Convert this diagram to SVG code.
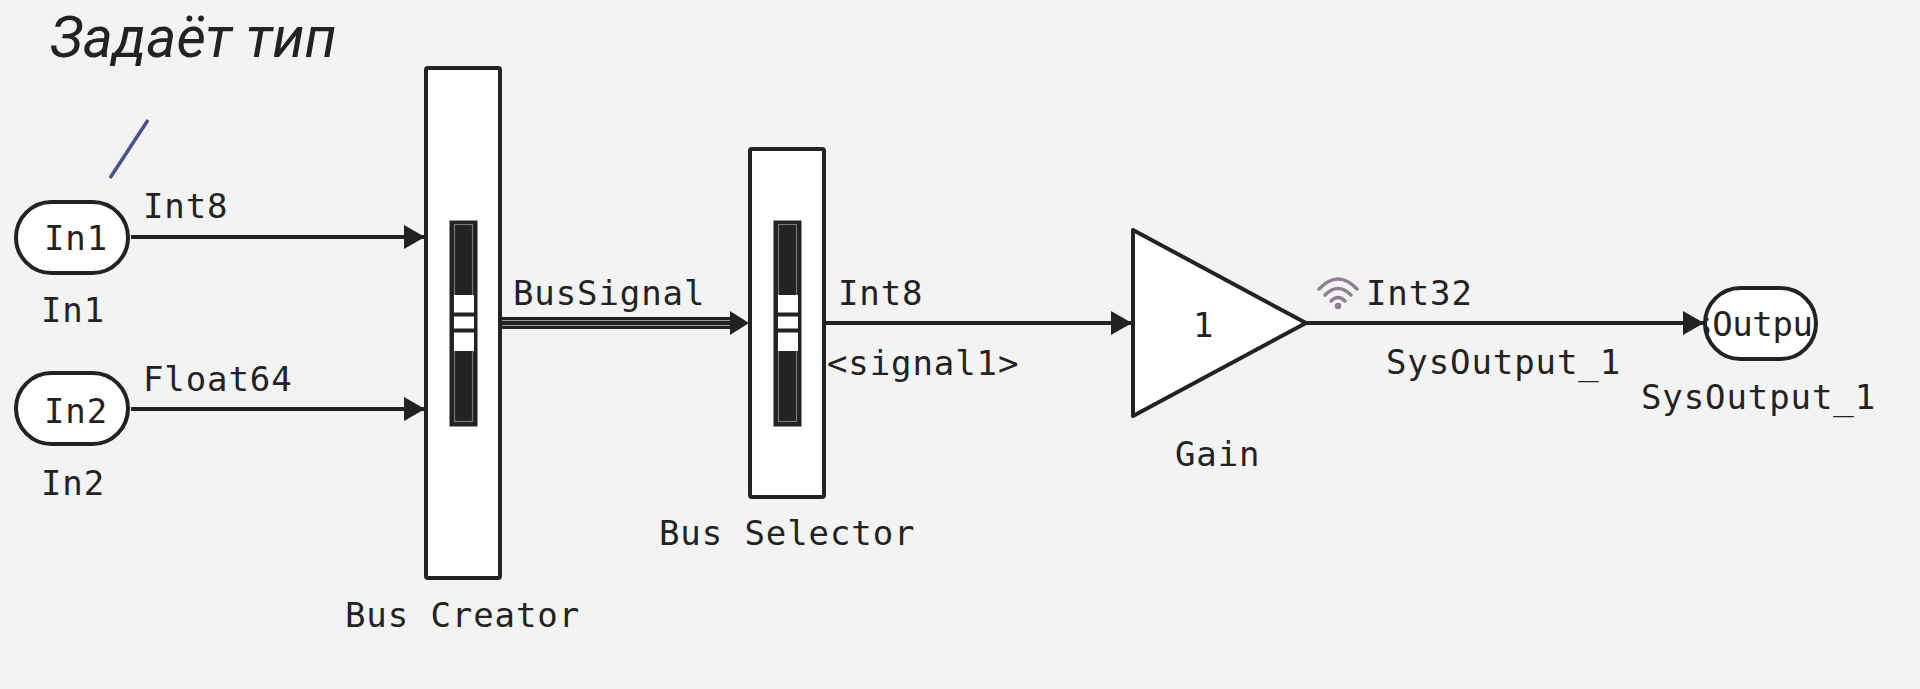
<svg xmlns="http://www.w3.org/2000/svg" width="1920" height="689" viewBox="0 0 1920 689">
<style>
.t{font-family:"DejaVu Sans Mono",monospace;font-size:34px;fill:#222;letter-spacing:.9px}
.box{fill:#fff;stroke:#222;stroke-width:4;stroke-linejoin:round}
.w{stroke:#222;stroke-width:4;fill:none}
.bar{fill:#222;stroke:#222;stroke-width:3}
.barin{fill:none;stroke:#777;stroke-width:1.200}
.wh{fill:#fff}
.div{stroke:#222;stroke-width:4}
</style>
<defs>
<marker id="a" markerUnits="userSpaceOnUse" markerWidth="22" markerHeight="24" refX="21" refY="12" orient="auto"><path d="M0 0L21 12L0 24Z" fill="#222"/></marker>
<clipPath id="oc"><rect x="1705" y="287" width="111" height="72" rx="36"/></clipPath>
<g id="busbar">
<rect class="bar" x="1" y="2" width="25" height="203"/>
<rect class="barin" x="4.500" y="4.500" width="18" height="197"/>
<rect class="wh" x="4" y="75" width="20" height="56"/>
<line class="div" x1="3" x2="25" y1="94.500" y2="94.500"/>
<line class="div" x1="3" x2="25" y1="110.500" y2="110.500"/>
</g>
</defs>
<rect width="1920" height="689" fill="#f3f3f3"/>
<text x="50" y="57" font-family="Roboto,sans-serif" font-style="italic" font-size="57" font-weight="400" fill="#222">Задаёт тип</text>
<line x1="148" y1="120" x2="110" y2="178" stroke="#4a4f8f" stroke-width="3.5"/>
<g id="connectors">
<line class="w" x1="131" y1="237" x2="425" y2="237" marker-end="url(#a)"/>
<line class="w" x1="131" y1="409" x2="425" y2="409" marker-end="url(#a)"/>
<g id="bus-signal">
<line x1="502" y1="323" x2="735" y2="323" stroke="#222" stroke-width="12"/>
<line x1="502" y1="320.500" x2="735" y2="320.500" stroke="#999" stroke-width="1"/>
<line x1="502" y1="325.500" x2="735" y2="325.500" stroke="#999" stroke-width="1"/>
<path d="M730 311L749 323L730 335Z" fill="#222"/>
</g>
<line class="w" x1="826" y1="323" x2="1132" y2="323" marker-end="url(#a)"/>
<line class="w" x1="1306" y1="323" x2="1704" y2="323" marker-end="url(#a)"/>
</g>
<g id="in1"><rect class="box" x="16" y="202" width="112" height="71" rx="35.500"/><text class="t" x="44" y="250">In1</text><text class="t" x="41" y="322">In1</text></g>
<g id="in2"><rect class="box" x="16" y="373" width="112" height="71" rx="35.500"/><text class="t" x="44" y="423">In2</text><text class="t" x="41" y="495">In2</text></g>
<g id="bus-creator"><rect class="box" x="426" y="68" width="74" height="510" rx="2"/><use href="#busbar" x="450" y="220"/><text class="t" x="345" y="627">Bus Creator</text></g>
<g id="bus-selector"><rect class="box" x="750" y="149" width="74" height="348" rx="2"/><use href="#busbar" x="774" y="220"/><text class="t" x="659" y="545">Bus Selector</text></g>
<g id="gain"><path class="box" d="M1133 230L1306 323L1133 416Z"/><text class="t" x="1193" y="337">1</text><text class="t" x="1175" y="466">Gain</text></g>
<g id="sysoutput"><rect class="box" x="1705" y="288" width="111" height="71" rx="35.500"/><text class="t" style="letter-spacing:-.4px" x="1652" y="336" clip-path="url(#oc)">SysOutput_1</text><text class="t" x="1641" y="409">SysOutput_1</text></g>
<g id="labels">
<text class="t" x="143" y="218">Int8</text>
<text class="t" x="143" y="391">Float64</text>
<text class="t" x="513" y="305">BusSignal</text>
<text class="t" x="838" y="305">Int8</text>
<text class="t" x="827" y="375">&lt;signal1&gt;</text>
<text class="t" x="1366" y="305">Int32</text>
<text class="t" x="1386" y="374">SysOutput_1</text>
</g>
<g id="wifi" fill="none" stroke="#8f7f92" stroke-width="3.500" stroke-linecap="round">
<path d="M1319 289Q1338 269 1357 289"/>
<path d="M1325 295Q1338 282 1351 295"/>
<path d="M1331 301Q1338 294 1345 301"/>
<circle cx="1338" cy="306" r="1.500" fill="#8f7f92"/>
</g>
</svg>
